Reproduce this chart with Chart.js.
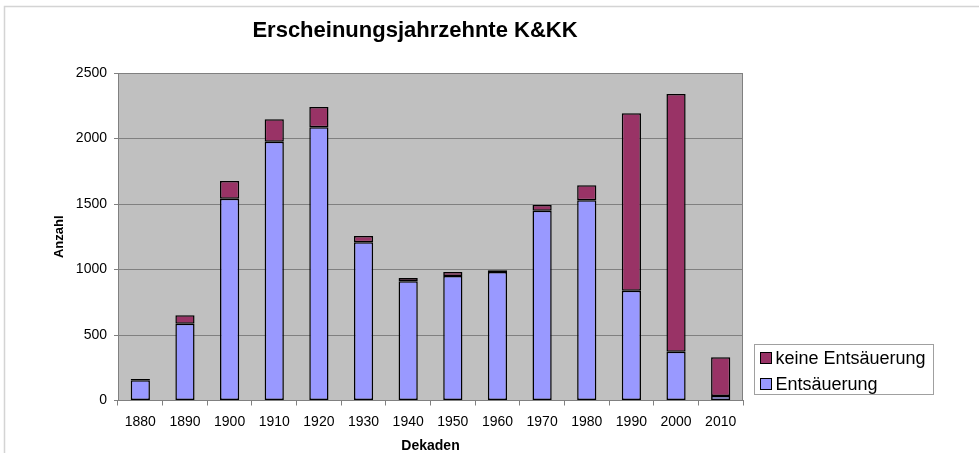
<!DOCTYPE html>
<html>
<head>
<meta charset="utf-8">
<script src="https://cdn.jsdelivr.net/npm/chart.js@4/dist/chart.umd.min.js"></script>
<style>
  html, body { margin: 0; padding: 0; background: #ffffff; }
  #wrap { width: 979px; height: 455px; position: relative; }
</style>
</head>
<body>
<div id="wrap"><canvas id="c" width="979" height="455"></canvas></div>
<script>
const chartTitle = 'Erscheinungsjahrzehnte K&KK';
const xTitle = 'Dekaden';
const yTitle = 'Anzahl';
const decades = ['1880','1890','1900','1910','1920','1930','1940','1950','1960','1970','1980','1990','2000','2010'];
const entsaeuerung =       [155, 585, 1540, 1975, 2085, 1208, 910, 950, 980, 1448, 1528, 838, 373, 34];
const keineEntsaeuerung =  [10,  65,  135,  172,  155,  48,   25,  30,  15,  45,   115,  1355, 1967, 296];
const yTicks = [0, 500, 1000, 1500, 2000, 2500];

const FONT = "'Liberation Sans', Arial, sans-serif";

const bgPlugin = {
  id: 'bgPlugin',
  beforeDraw(chart) {
    const ctx = chart.ctx, a = chart.chartArea;
    ctx.save();
    // outer frame
    ctx.strokeStyle = '#d4d4d4';
    ctx.lineWidth = 1.5;
    ctx.beginPath();
    ctx.moveTo(4.5, 453);
    ctx.lineTo(4.5, 6.5);
    ctx.lineTo(979, 6.5);
    ctx.stroke();
    // plot background
    ctx.fillStyle = '#c0c0c0';
    ctx.fillRect(a.left, a.top, a.right - a.left, a.bottom - a.top);
    ctx.restore();
  },
  afterDatasetsDraw(chart) {
    const ctx = chart.ctx, a = chart.chartArea;
    ctx.save();
    ctx.strokeStyle = '#808080';
    ctx.lineWidth = 1;
    ctx.beginPath();
    ctx.moveTo(a.left, a.top + 0.5);
    ctx.lineTo(a.right - 0.5, a.top + 0.5);
    ctx.lineTo(a.right - 0.5, a.bottom);
    ctx.stroke();
    ctx.restore();
  },
  afterDraw(chart) {
    const ctx = chart.ctx;
    ctx.save();
    // chart title
    ctx.fillStyle = '#000000';
    ctx.font = 'bold 22px ' + FONT;
    ctx.textAlign = 'center';
    ctx.textBaseline = 'middle';
    ctx.fillText(chartTitle, 415, 31);
    // legend box (reversed order, like the reference)
    const x = 754.5, y = 344.5, w = 179, h = 50;
    ctx.fillStyle = '#ffffff';
    ctx.fillRect(x, y, w, h);
    ctx.strokeStyle = '#a0a0a0';
    ctx.lineWidth = 1;
    ctx.strokeRect(x, y, w, h);
    const items = chart.data.datasets.slice().reverse();
    ctx.font = '18px ' + FONT;
    ctx.textAlign = 'left';
    ctx.textBaseline = 'middle';
    items.forEach((ds, i) => {
      const cy = y + 13.5 + i * 26;
      ctx.fillStyle = ds.backgroundColor;
      ctx.fillRect(x + 6, cy - 5.5, 11, 11);
      ctx.strokeStyle = '#000000';
      ctx.strokeRect(x + 6, cy - 5.5, 11, 11);
      ctx.fillStyle = '#000000';
      ctx.fillText(ds.label, x + 21, cy + 1);
    });
    ctx.restore();
  }
};

new Chart(document.getElementById('c'), {
  type: 'bar',
  data: {
    labels: decades,
    datasets: [
      { label: 'Entsäuerung', data: entsaeuerung, backgroundColor: '#9999ff', borderColor: '#000000', borderWidth: 1.5, borderSkipped: false },
      { label: 'keine Entsäuerung', data: keineEntsaeuerung, backgroundColor: '#993366', borderColor: '#000000', borderWidth: 1.5, borderSkipped: false }
    ]
  },
  options: {
    responsive: false,
    animation: false,
    devicePixelRatio: 1,
    layout: { padding: { left: 0, right: 236, top: 73, bottom: 0 } },
    datasets: { bar: { categoryPercentage: 0.43, barPercentage: 1.0 } },
    plugins: {
      legend: { display: false },
      tooltip: { enabled: false },
      title: { display: false }
    },
    scales: {
      x: {
        stacked: true,
        afterFit(s) { s.height = 54.5; },
        grid: { display: true, drawOnChartArea: false, drawTicks: true, tickLength: 5, color: '#808080', offset: true },
        border: { display: true, color: '#808080', width: 1 },
        ticks: { color: '#000000', font: { family: FONT, size: 14 }, padding: 8, maxRotation: 0, autoSkip: false },
        title: { display: true, text: xTitle, color: '#000000', font: { family: FONT, size: 14, weight: 'bold' }, padding: { top: 0, bottom: 0 } }
      },
      y: {
        stacked: true,
        min: 0, max: 2500,
        afterFit(s) { s.width = 118; },
        afterBuildTicks(s) { s.ticks = yTicks.map(v => ({ value: v })); },
        grid: { display: true, drawOnChartArea: true, drawTicks: true, tickLength: 4, color: '#808080' },
        border: { display: true, color: '#808080', width: 1 },
        ticks: { color: '#000000', font: { family: FONT, size: 14 }, padding: 7, callback: v => String(v) },
        title: { display: true, text: yTitle, color: '#000000', font: { family: FONT, size: 13, weight: 'bold' }, padding: { top: 52, bottom: 0 } }
      }
    }
  },
  plugins: [bgPlugin]
});
</script>
</body>
</html>
